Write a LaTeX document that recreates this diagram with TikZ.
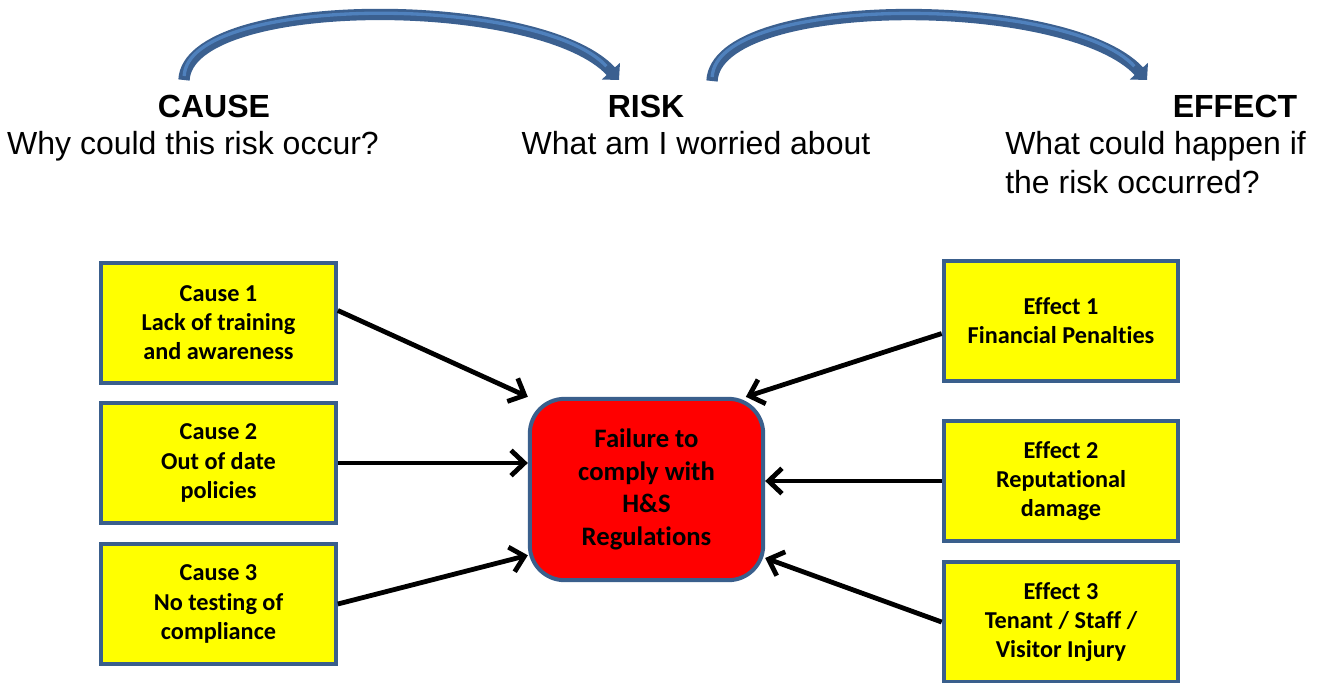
\documentclass[tikz,border=0pt]{standalone}
\usepackage{fontspec}
\setmainfont{Carlito}[Ligatures=NoCommon]
\newfontfamily\arialfont{Liberation Sans}
\usetikzlibrary{arrows.meta,shapes,positioning}
\definecolor{boxline}{HTML}{3A5F8C}
\definecolor{boxfill}{HTML}{FFFF00}
\definecolor{ribdark}{HTML}{3B6090}
\definecolor{ribfill}{HTML}{4F81BD}

\begin{document}
\begin{tikzpicture}[x=0.75pt,y=-0.75pt]
    %styles
    \tikzstyle{factor}=[rectangle,draw=boxline,line width=3pt,fill=boxfill,align=center,minimum width=176pt,minimum height=90pt,inner sep=0pt,font=\fontsize{18.2}{21.8}\selectfont\bfseries]
    \tikzstyle{riskbox}=[rectangle,rounded corners=26pt,draw=boxline,line width=3pt,fill=red,align=center,minimum width=175pt,minimum height=136pt,inner sep=0pt,font=\fontsize{20}{24.5}\selectfont\bfseries]
    \tikzstyle{head}=[anchor=base,inner sep=0pt,font=\arialfont\fontsize{24}{29}\selectfont\bfseries]
    \tikzstyle{ask}=[anchor=base,inner sep=0pt,font=\arialfont\fontsize{24}{29}\selectfont]
    \tikzstyle{link}=[-{Straight Barb[length=10pt,width=19pt]},line width=3.6pt]
    \tikzstyle{swoop}=[draw=ribdark,line width=8.5pt,-{Triangle[length=9pt,width=18pt]}]
    \tikzstyle{swoopin}=[draw=ribfill,line width=2.5pt,shorten >=14pt,shorten <=3pt]
    \useasboundingbox (0,0) rectangle (1323,682);
    %headings
    \node[head] (hcause) at (214,117) {CAUSE};
    \node[ask] (qcause) at (193,154) {Why could this risk occur?};
    \node[head] (hrisk) at (646,117) {RISK};
    \node[ask] (qrisk) at (696,154) {What am I worried about};
    \node[head] (heff) at (1235,117) {EFFECT};
    \node[ask,anchor=base west] (qeff) at (1005,154) {What could happen if};
    \node[ask,anchor=base west] (qeff2) at (1005,193) {the risk occurred?};
    %swoops
    \coordinate (s1) at (184,80);
    \coordinate (t1) at (619,80);
    \coordinate (s2) at (712,81);
    \coordinate (t2) at (1147,80);
    \draw[swoop] (s1) .. controls (188,-6) and (540,-6) .. (t1);
    \draw[swoopin] (s1) .. controls (188,-6) and (540,-6) .. (t1);
    \draw[swoop] (s2) .. controls (716,-6) and (1068,-6) .. (t2);
    \draw[swoopin] (s2) .. controls (716,-6) and (1068,-6) .. (t2);
    %nodes
    \node[factor] (cause1) at (218.5,323) {Cause 1\\Lack of training\\and awareness};
    \node[factor] (cause2) at (218.5,463) {Cause 2\\Out of date\\policies};
    \node[factor] (cause3) at (218.5,604) {Cause 3\\No testing of\\compliance};
    \node[riskbox] (fail) at (646.5,489.5) {Failure to\\comply with\\H\&S\\Regulations};
    \node[factor] (eff1) at (1061,321) {Effect 1\\Financial Penalties};
    \node[factor] (eff2) at (1061,481) {Effect 2\\Reputational\\damage};
    \node[factor] (eff3) at (1061,622) {Effect 3\\Tenant / Staff /\\Visitor Injury};
    %arrows
    \draw[link] (cause1.6) -- (fail.north west);
    \draw[link] (cause2.east) -- (cause2.east -| fail.west);
    \draw[link] (cause3.east) -- (fail.209);
    \draw[link] (eff1.186) -- (fail.43);
    \draw[link] (eff2.west) -- (eff2.west -| fail.east);
    \draw[link] (eff3.west) -- (fail.-30);
\end{tikzpicture}
\end{document}
